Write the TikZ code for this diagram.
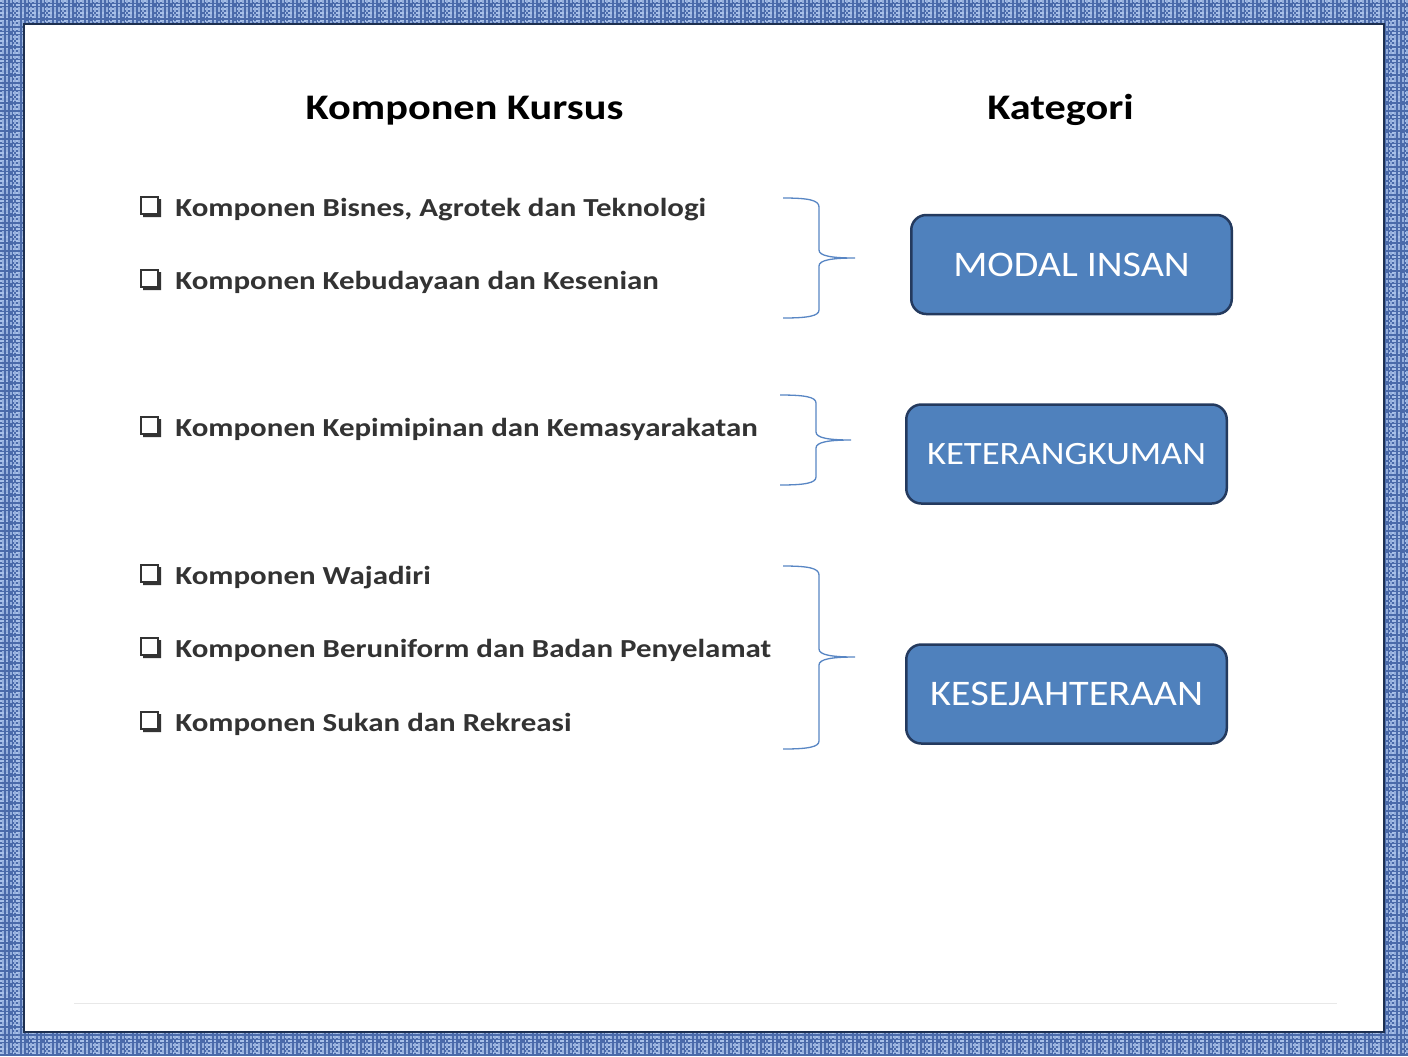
\documentclass[tikz,border=0pt]{standalone}
\usepackage{graphicx}
\usepackage{fontspec}
\setmainfont{Carlito}
\definecolor{framebg}{RGB}{74,106,170}
\definecolor{framelt}{RGB}{168,192,232}
\definecolor{framedk}{RGB}{30,48,80}
\definecolor{boxfill}{RGB}{79,129,189}
\definecolor{boxline}{RGB}{36,58,94}
\definecolor{bracec}{RGB}{88,134,196}
\definecolor{itemc}{RGB}{51,51,51}
\newcommand{\sx}[2]{\scalebox{#1}[1]{#2}}
\begin{document}
\begin{tikzpicture}[x=0.5pt,y=-0.5pt,
  heading/.style={font=\fontsize{18}{21}\selectfont\bfseries, text=black, inner sep=0pt, anchor=base},
  item/.style={font=\fontsize{13}{15}\selectfont\bfseries, text=itemc, inner sep=0pt, anchor=base west},
  catbox/.style={draw=boxline, line width=1.25pt, fill=boxfill, rounded corners=7.5pt,
    minimum width=160.25pt, minimum height=49.5pt, text=white, inner sep=0pt,
    font=\fontsize{18}{21}\selectfont},
  bracestyle/.style={draw=bracec, line width=0.65pt},
  cbox/.pic={
    \draw[itemc, line width=0.8pt] (0,0) rectangle (17,17);
    \fill[itemc] (17,2) -- (20,2) -- (20,20) -- (2,20) -- (2,17) -- (17,17) -- cycle;
  }]
\useasboundingbox (0,0) rectangle (1408,1056);
% textured frame
\begin{scope}
  \clip (0,0) rectangle (1408,1056);
  \fill[framebg] (0,0) rectangle (1408,1056);
  \foreach \y in {1,5,...,1056}
    \draw[framelt, line width=0.55pt, dash pattern=on 2pt off 1pt on 1pt off 2.5pt on 0.5pt off 1pt] (0,\y) -- (1408,\y);
  \foreach \x in {3,7,...,1408}
    \draw[framelt!80!framebg, line width=0.55pt, dash pattern=on 1.5pt off 2pt on 2.5pt off 1pt] (\x,0) -- (\x,1056);
\end{scope}
\draw[framedk, line width=1.25pt, fill=white] (24,24) rectangle (1384,1032);
\draw[black!9, line width=0.5pt] (74,1003) -- (1337,1003);

% headings
\node[heading] (h1) at (464.5,119) {\sx{1.175}{Komponen Kursus}};
\node[heading] (h2) at (1060.5,119) {\sx{1.175}{Kategori}};

% items
\foreach \yb/\nm/\txt in {
  216/i1/{Komponen Bisnes, Agrotek dan Teknologi},
  289/i2/{Komponen Kebudayaan dan Kesenian},
  436/i3/{Komponen Kepimipinan dan Kemasyarakatan},
  584/i4/{Komponen Wajadiri},
  657/i5/{Komponen Beruniform dan Badan Penyelamat},
  731/i6/{Komponen Sukan dan Rekreasi}} {
  \pic at (141,\yb-19) {cbox};
  \node[item] (\nm) at (175,\yb) {\sx{1.19}{\txt}};
}

% category boxes
\node[catbox] (c1) at (1071.5,264.5) {\sx{1.11}{MODAL INSAN}};
\node[catbox, font=\fontsize{16.3}{19}\selectfont] (c2) at (1066.5,454) {\sx{1.125}{KETERANGKUMAN}};
\node[catbox] (c3) at (1066.5,694) {\sx{1.12}{KESEJAHTERAAN}};

% braces
\coordinate (b1t) at (783,198); \coordinate (b1p) at (855,258); \coordinate (b1b) at (783,318);
\coordinate (b2t) at (780,395); \coordinate (b2p) at (851,440); \coordinate (b2b) at (780,485);
\coordinate (b3t) at (783,566); \coordinate (b3p) at (855,657); \coordinate (b3b) at (783,749);

\path[bracestyle] (b1t) .. controls (808,198) and (819,200) .. (819,207) -- (819,250)
  .. controls (819,256) and (832,258) .. (b1p)
  .. controls (832,258) and (819,260) .. (819,266) -- (819,310)
  .. controls (819,316) and (808,318) .. (b1b);
\path[bracestyle] (b2t) .. controls (805,395) and (816,397) .. (816,403) -- (816,432)
  .. controls (816,438) and (829,440) .. (b2p)
  .. controls (829,440) and (816,442) .. (816,448) -- (816,477)
  .. controls (816,483) and (805,485) .. (b2b);
\path[bracestyle] (b3t) .. controls (808,566) and (819,568) .. (819,575) -- (819,649)
  .. controls (819,655) and (832,657) .. (b3p)
  .. controls (832,657) and (819,659) .. (819,665) -- (819,741)
  .. controls (819,747) and (808,749) .. (b3b);
\end{tikzpicture}
\end{document}
